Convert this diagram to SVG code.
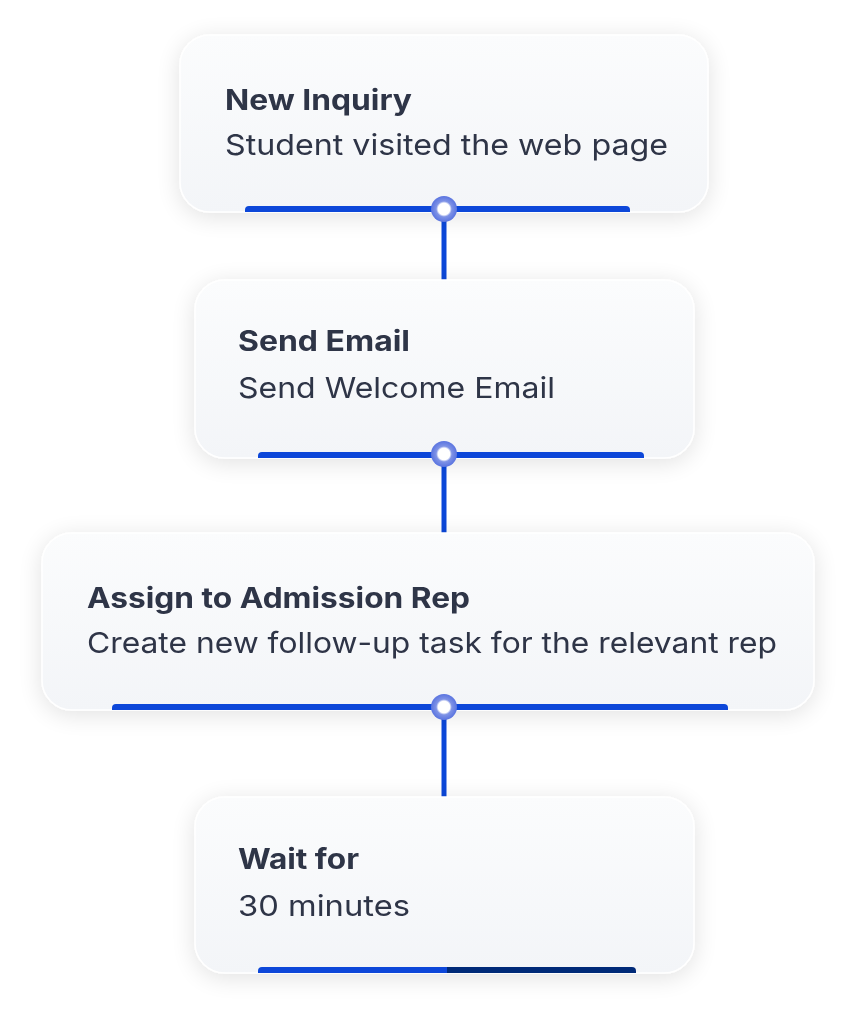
<svg xmlns="http://www.w3.org/2000/svg" width="855" height="1024" viewBox="0 0 855 1024">
<defs>
<filter id="sh" x="-20%" y="-30%" width="140%" height="160%"><feGaussianBlur in="SourceAlpha" stdDeviation="12"/><feOffset dy="4"/><feComponentTransfer><feFuncA type="linear" slope="0.12"/></feComponentTransfer><feMerge><feMergeNode/><feMergeNode in="SourceGraphic"/></feMerge></filter>
<linearGradient id="cg" x1="0" y1="0" x2="0" y2="1"><stop offset="0" stop-color="#fbfcfd"/><stop offset="1" stop-color="#f3f5f8"/></linearGradient>
<radialGradient id="dot"><stop offset="0.45" stop-color="#ffffff"/><stop offset="0.6" stop-color="#7f93e6"/><stop offset="1" stop-color="#5a74e0"/></radialGradient>
</defs>
<style>
.card{fill:url(#cg);stroke:#ffffff;stroke-width:1.5}
.t{font-family:Inter,"Liberation Sans",sans-serif;font-weight:700;font-size:28px;fill:#2f3447}
.s{font-family:Inter,"Liberation Sans",sans-serif;font-size:29px;fill:#2f3447}
.bar{fill:#0a47d9}
.ln{stroke:#0a47d9;stroke-width:5}
</style>
<rect width="855" height="1024" fill="#ffffff"/>
<g id="connectors">
<line class="ln" x1="444" y1="215" x2="444" y2="280"/>
<line class="ln" x1="444" y1="460" x2="444" y2="533"/>
<line class="ln" x1="444" y1="712" x2="444" y2="797"/>
</g>
<g id="n1" filter="url(#sh)"><rect class="card" x="180" y="35" width="528" height="177" rx="30"/>
<text class="t" x="225" y="110" textLength="187" lengthAdjust="spacingAndGlyphs">New Inquiry</text><text class="s" x="225" y="155" textLength="443" lengthAdjust="spacingAndGlyphs">Student visited the web page</text>
<path class="bar" d="M245 212v-2a4 4 0 0 1 4-4h377a4 4 0 0 1 4 4v2z"/></g>
<g id="n2" filter="url(#sh)"><rect class="card" x="195" y="280" width="499" height="178" rx="30"/>
<text class="t" x="238" y="351" textLength="172" lengthAdjust="spacingAndGlyphs">Send Email</text><text class="s" x="238" y="398" textLength="317" lengthAdjust="spacingAndGlyphs">Send Welcome Email</text>
<path class="bar" d="M258 458v-2a4 4 0 0 1 4-4h378a4 4 0 0 1 4 4v2z"/></g>
<g id="n3" filter="url(#sh)"><rect class="card" x="42" y="533" width="772" height="177" rx="30"/>
<text class="t" x="87" y="608" textLength="383" lengthAdjust="spacingAndGlyphs">Assign to Admission Rep</text><text class="s" x="87" y="653" textLength="690" lengthAdjust="spacingAndGlyphs">Create new follow-up task for the relevant rep</text>
<path class="bar" d="M112 710v-2a4 4 0 0 1 4-4h608a4 4 0 0 1 4 4v2z"/></g>
<g id="n4" filter="url(#sh)"><rect class="card" x="195" y="797" width="499" height="176" rx="30"/>
<text class="t" x="238" y="869" textLength="121" lengthAdjust="spacingAndGlyphs">Wait for</text><text class="s" x="238" y="916" textLength="172" lengthAdjust="spacingAndGlyphs">30 minutes</text>
<path class="bar" d="M258 973v-2a4 4 0 0 1 4-4h185v6z"/>
<path d="M447 973v-6h185a4 4 0 0 1 4 4v2z" fill="#062a78"/></g>
<g id="dots">
<circle cx="444" cy="209" r="13" fill="url(#dot)"/>
<circle cx="444" cy="454" r="13" fill="url(#dot)"/>
<circle cx="444" cy="707" r="13" fill="url(#dot)"/>
</g>
</svg>
